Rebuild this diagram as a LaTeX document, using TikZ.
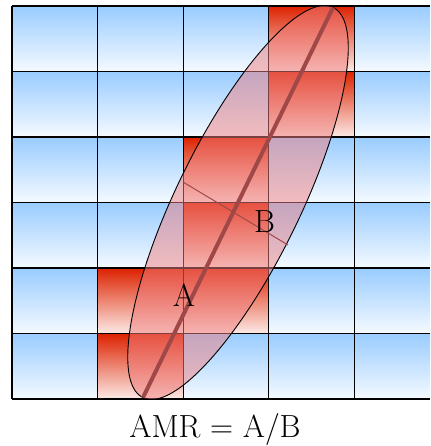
\documentclass[tikz,border=0pt]{standalone}
\usepackage{fontspec}
\definecolor{bluetop}{HTML}{99CCFF}
\definecolor{bluebot}{HTML}{F5FAFF}
\definecolor{redtop}{HTML}{DD2200}
\definecolor{redbot}{HTML}{FCEAE6}
\definecolor{ellfill}{HTML}{F08080}
\definecolor{axiscol}{HTML}{A04848}
\tikzset{
  bluecell/.style={top color=bluetop,bottom color=bluebot},
  redcell/.style={top color=redtop,bottom color=redbot},
  gridline/.style={draw=black,line width=1.2pt},
  lbl/.style={font=\fontsize{32}{38}\selectfont,inner sep=0pt}
}
\begin{document}
\begin{tikzpicture}[x=1pt,y=-1pt]
\useasboundingbox (0,0) rectangle (430,446);
% cells
\foreach \c in {0,...,4}{
  \foreach \r in {0,...,5}{
    \pgfmathsetmacro\xa{12+85.6*\c}
    \pgfmathsetmacro\xb{min(12+85.6*(\c+1),430)}
    \pgfmathsetmacro\ya{6+65.5*\r}
    \pgfmathsetmacro\yb{6+65.5*(\r+1)}
    \shade[bluecell] (\xa,\ya) rectangle (\xb,\yb);
  }
}
\foreach \c/\r in {3/0,3/1,2/2,2/3,2/4,1/4,1/5}{
    \pgfmathsetmacro\xa{12+85.6*\c}
    \pgfmathsetmacro\xb{12+85.6*(\c+1)}
    \pgfmathsetmacro\ya{6+65.5*\r}
    \pgfmathsetmacro\yb{6+65.5*(\r+1)}
    \shade[redcell] (\xa,\ya) rectangle (\xb,\yb);
}
% grid
\foreach \x in {12,97.6,183.2,268.8,354.4} \draw[gridline] (\x,6) -- (\x,399);
\foreach \y in {6,71.5,137,202.5,268,333.5,399} \draw[gridline] (12,\y) -- (430,\y);
% ellipse
\coordinate (ctr) at (238,202.5);
\coordinate (tipT) at (333,7.5);
\coordinate (tipB) at (143,397.5);
\coordinate (minL) at (183,182);
\coordinate (minR) at (288,245);
\begin{scope}
  \clip (12,6) rectangle (430,399);
  \fill[ellfill,opacity=0.5,shift={(ctr)},rotate=64] (0,0) ellipse [x radius=217pt,y radius=62pt];
  \draw[black,line width=0.9pt,shift={(ctr)},rotate=64] (0,0) ellipse [x radius=217pt,y radius=62pt];
\end{scope}
\draw[axiscol,line width=4pt] (tipB) -- (tipT);
\draw[axiscol,line width=1pt] (minL) -- (minR);
% labels
\node[lbl] (lA) at (184,295) {A};
\node[lbl] (lB) at (264.5,221.5) {B};
\node[lbl,anchor=base] (amr) at (215,437) {AMR = A/B};
\end{tikzpicture}
\end{document}
